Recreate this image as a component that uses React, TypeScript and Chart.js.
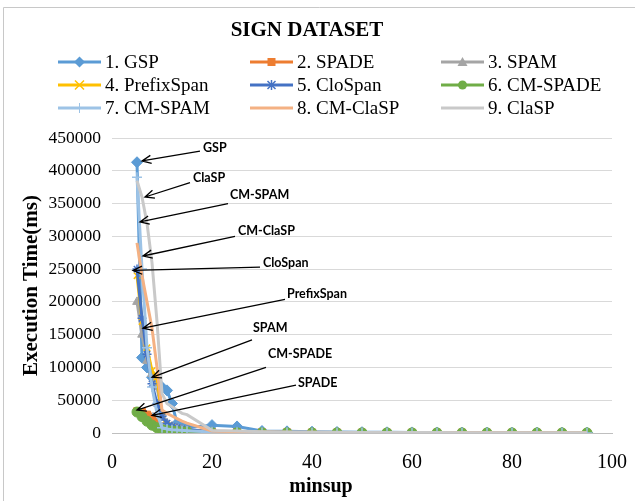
import React, { useEffect, useRef } from 'react';
import { Chart, registerables } from 'chart.js';

Chart.register(...registerables);

// ---------- data ----------
const minsup = [5, 6, 7, 8, 9, 10, 11, 12, 13, 14, 15, 20, 25, 30, 35, 40, 45, 50, 55, 60, 65, 70, 75, 80, 85, 90, 95];

const gsp = [413000, 115000, 100000, 85000, 75000, 70000, 65000, 45000, 15000, 10000, 8000, 12000, 10000, 3000, 2500, 2000, 1500, 1200, 1000, 900, 800, 700, 600, 500, 450, 400, 350];
const spade = [33000, 32000, 28000, 25000, 18000, 10000, 6000, 5000, 4000, 3500, 3000, 1500, 1200, 1000, 900, 800, 700, 650, 600, 550, 500, 450, 400, 350, 300, 250, 200];
const spam = [200000, 150000, 110000, 90000, 70000, 30000, 15000, 10000, 8000, 6000, 5000, 2000, 1500, 1000, 800, 700, 600, 500, 450, 400, 350, 300, 280, 260, 240, 220, 200];
const prefixSpan = [240000, 170000, 130000, 95000, 85000, 25000, 12000, 9000, 7000, 5000, 4000, 1500, 1200, 1000, 800, 700, 600, 500, 450, 400, 350, 300, 280, 260, 240, 220, 200];
const cloSpan = [250000, 175000, 120000, 75000, 45000, 25000, 15000, 10000, 8000, 6000, 5000, 2000, 1500, 1000, 800, 700, 600, 500, 450, 400, 350, 300, 280, 260, 240, 220, 200];
const cmSpade = [32000, 25000, 18000, 12000, 8000, 5000, 4000, 3000, 2500, 2000, 1800, 500, 400, 300, 250, 200, 180, 160, 150, 140, 130, 120, 110, 100, 100, 100, 100];
const cmSpam = [390000, 250000, 130000, 70000, 30000, 8000, 6000, 5000, 4500, 4000, 3500, 1500, 1000, 800, 600, 500, 400, 350, 300, 280, 260, 240, 220, 200, 180, 160, 150];
const cmClaSP = [290000, 240000, 200000, 160000, 100000, 35000, 30000, 26000, 22000, 18000, 15000, 3000, 2000, 1500, 1200, 1000, 800, 700, 600, 500, 450, 400, 350, 300, 280, 260, 240];
const claSP = [385000, 360000, 320000, 260000, 170000, 60000, 45000, 40000, 35000, 30000, 28000, 4000, 3000, 2000, 1500, 1200, 1000, 900, 800, 700, 600, 500, 450, 400, 350, 300, 250];

const seriesNames = ['1. GSP', '2. SPADE', '3. SPAM', '4. PrefixSpan', '5. CloSpan', '6. CM-SPADE', '7. CM-SPAM', '8. CM-ClaSP', '9. ClaSP'];
const seriesValues = [gsp, spade, spam, prefixSpan, cloSpan, cmSpade, cmSpam, cmClaSP, claSP];
const seriesColors = ['#5B9BD5', '#ED7D31', '#A5A5A5', '#FFC000', '#4472C4', '#70AD47', '#9DC3E6', '#F4B183', '#C9C9C9'];
const seriesMarkers: (string | false)[] = ['rectRot', 'rect', 'triangle', 'crossRot', 'star', 'circle', 'cross', false, false];
const markerRadius = [5.5, 5, 5, 4.5, 4.5, 5, 5, 0, 0];

const chartTitle = 'SIGN DATASET';
const xTitle = 'minsup';
const yTitle = 'Execution Time(ms)';
const xMin = 0, xMax = 100, xStep = 20;
const yMin = 0, yMax = 450000, yStep = 50000;

// callouts: label position and arrow (tail -> head), in data units
const calloutLabels = ['GSP', 'ClaSP', 'CM-SPAM', 'CM-ClaSP', 'CloSpan', 'PrefixSpan', 'SPAM', 'CM-SPADE', 'SPADE'];
const calloutText = [[18.2, 435000], [16.2, 389000], [23.6, 363000], [25.2, 308000], [30.2, 260000], [35.0, 212000], [28.2, 160000], [31.2, 121000], [37.2, 77000]];
const calloutTail = [[17.6, 430000], [15.6, 382000], [23.2, 350000], [24.6, 300000], [29.6, 253000], [34.6, 204000], [28.0, 142000], [30.8, 100000], [36.8, 73000]];
const calloutHead = [[6.0, 415000], [6.6, 360000], [5.6, 322000], [6.2, 270000], [4.2, 248000], [6.2, 160000], [8.0, 85000], [5.0, 35000], [8.0, 27000]];

const SERIF = "'Liberation Serif', 'Times New Roman', serif";
const SANS = "Lato, 'Liberation Sans', Arial, sans-serif";

function drawMarker(ctx: CanvasRenderingContext2D, style: string | false, cx: number, cy: number, color: string) {
  if (!style) return;
  ctx.save();
  ctx.fillStyle = color;
  ctx.strokeStyle = color;
  ctx.lineWidth = 1.5;
  ctx.beginPath();
  if (style === 'rectRot') {
    const r = 5.5;
    ctx.moveTo(cx, cy - r); ctx.lineTo(cx + r, cy); ctx.lineTo(cx, cy + r); ctx.lineTo(cx - r, cy); ctx.closePath(); ctx.fill();
  } else if (style === 'rect') {
    ctx.rect(cx - 4, cy - 4, 8, 8); ctx.fill();
  } else if (style === 'triangle') {
    ctx.moveTo(cx, cy - 5); ctx.lineTo(cx + 5, cy + 4); ctx.lineTo(cx - 5, cy + 4); ctx.closePath(); ctx.fill();
  } else if (style === 'crossRot') {
    ctx.moveTo(cx - 4.5, cy - 4.5); ctx.lineTo(cx + 4.5, cy + 4.5); ctx.moveTo(cx + 4.5, cy - 4.5); ctx.lineTo(cx - 4.5, cy + 4.5); ctx.stroke();
  } else if (style === 'star') {
    ctx.moveTo(cx - 4, cy - 4); ctx.lineTo(cx + 4, cy + 4); ctx.moveTo(cx + 4, cy - 4); ctx.lineTo(cx - 4, cy + 4);
    ctx.moveTo(cx, cy - 5); ctx.lineTo(cx, cy + 5); ctx.stroke();
  } else if (style === 'circle') {
    ctx.arc(cx, cy, 4.5, 0, Math.PI * 2); ctx.fill();
  } else if (style === 'cross') {
    ctx.lineWidth = 1;
    ctx.moveTo(cx - 4.5, cy); ctx.lineTo(cx + 4.5, cy); ctx.moveTo(cx, cy - 5); ctx.lineTo(cx, cy + 5); ctx.stroke();
  }
  ctx.restore();
}

const overlayPlugin = {
  id: 'overlay',
  beforeDraw(chart: any) {
    const { ctx, width, height } = chart;
    ctx.save();
    ctx.fillStyle = '#ffffff';
    ctx.fillRect(0, 0, width, height);
    ctx.strokeStyle = '#C8C8C8';
    ctx.lineWidth = 1;
    ctx.beginPath();
    ctx.moveTo(3.5, height); ctx.lineTo(3.5, 7.5); ctx.lineTo(width, 7.5);
    ctx.stroke();
    ctx.restore();
  },
  afterDraw(chart: any) {
    const { ctx } = chart;
    const xs = chart.scales.x;
    const ys = chart.scales.y;
    ctx.save();
    // title
    ctx.fillStyle = '#000';
    ctx.font = `bold 21px ${SERIF}`;
    ctx.textAlign = 'center';
    ctx.textBaseline = 'middle';
    ctx.fillText(chartTitle, 307, 31);

    // legend 3x3
    const colX = [58, 250, 441];
    const rowY = [62, 85, 108];
    ctx.font = `19px ${SERIF}`;
    ctx.textAlign = 'left';
    seriesNames.forEach((name, i) => {
      const cx = colX[i % 3];
      const cy = rowY[Math.floor(i / 3)];
      ctx.strokeStyle = seriesColors[i];
      ctx.lineWidth = 3;
      ctx.beginPath();
      ctx.moveTo(cx, cy); ctx.lineTo(cx + 43, cy);
      ctx.stroke();
      drawMarker(ctx, seriesMarkers[i], cx + 21.5, cy, seriesColors[i]);
      ctx.fillStyle = '#000';
      ctx.fillText(name, cx + 47, cy + 1);
    });

    // x axis title
    ctx.font = `bold 20px ${SERIF}`;
    ctx.textAlign = 'center';
    ctx.fillText(xTitle, 321, 487);

    // callouts
    ctx.font = `bold 12.5px ${SANS}`;
    ctx.textAlign = 'left';
    ctx.strokeStyle = '#000';
    ctx.lineWidth = 1.3;
    calloutLabels.forEach((lab, i) => {
      const tx = xs.getPixelForValue(calloutText[i][0]);
      const ty = ys.getPixelForValue(calloutText[i][1]);
      ctx.fillStyle = '#000';
      ctx.fillText(lab, tx, ty);
      const x1 = xs.getPixelForValue(calloutTail[i][0]);
      const y1 = ys.getPixelForValue(calloutTail[i][1]);
      const x2 = xs.getPixelForValue(calloutHead[i][0]);
      const y2 = ys.getPixelForValue(calloutHead[i][1]);
      ctx.beginPath();
      ctx.moveTo(x1, y1); ctx.lineTo(x2, y2);
      const ang = Math.atan2(y2 - y1, x2 - x1);
      const L = 10, a = 0.42;
      ctx.moveTo(x2 - L * Math.cos(ang - a), y2 - L * Math.sin(ang - a));
      ctx.lineTo(x2, y2);
      ctx.lineTo(x2 - L * Math.cos(ang + a), y2 - L * Math.sin(ang + a));
      ctx.stroke();
    });
    ctx.restore();
  },
};

export default function App() {
  const ref = useRef<HTMLCanvasElement>(null);
  useEffect(() => {
    if (!ref.current) return;
    const datasets = seriesValues.map((vals, i) => ({
      label: seriesNames[i],
      data: vals.map((v, j) => ({ x: minsup[j], y: v })),
      showLine: true,
      borderColor: seriesColors[i],
      backgroundColor: seriesColors[i],
      borderWidth: 3,
      pointStyle: seriesMarkers[i] as any,
      pointRadius: markerRadius[i],
      pointBorderWidth: seriesMarkers[i] === 'cross' || seriesMarkers[i] === 'crossRot' || seriesMarkers[i] === 'star' ? 1.5 : 1,
      pointBorderColor: seriesColors[i],
      pointBackgroundColor: seriesColors[i],
      order: seriesNames.length - i,
      tension: 0,
    }));
    const chart = new Chart(ref.current, {
      type: 'scatter',
      data: { datasets },
      plugins: [overlayPlugin],
      options: {
        animation: false,
        responsive: false,
        maintainAspectRatio: false,
        events: [],
        layout: { padding: { top: 138, left: 0, right: 23, bottom: 0 } },
        plugins: { legend: { display: false }, title: { display: false }, tooltip: { enabled: false } },
        scales: {
          x: {
            type: 'linear',
            min: xMin,
            max: xMax,
            afterFit: (s: any) => { s.height = 68; s.paddingRight = 0; s.paddingLeft = 0; },
            ticks: { stepSize: xStep, color: '#000', font: { family: SERIF, size: 20 }, padding: 18, maxRotation: 0 },
            grid: { display: false, drawTicks: false },
            border: { display: true, color: '#BFBFBF', width: 1 },
          },
          y: {
            type: 'linear',
            min: yMin,
            max: yMax,
            afterFit: (s: any) => { s.width = 112; },
            ticks: { stepSize: yStep, color: '#000', font: { family: SERIF, size: 17.5 }, padding: 11, callback: (v: any) => String(v) },
            grid: { color: '#D9D9D9', drawTicks: false, lineWidth: 1 },
            border: { display: false },
            title: { display: true, text: yTitle, color: '#000', font: { family: SERIF, size: 21, weight: 'bold' }, padding: { top: 19, bottom: 0 } },
          },
        },
      },
    });
    return () => chart.destroy();
  }, []);
  return (
    <div style={{ position: 'fixed', left: 0, top: 0, width: 635, height: 501, background: '#fff' }}>
      <canvas ref={ref} width={635} height={501} style={{ width: 635, height: 501, display: 'block' }} />
    </div>
  );
}
